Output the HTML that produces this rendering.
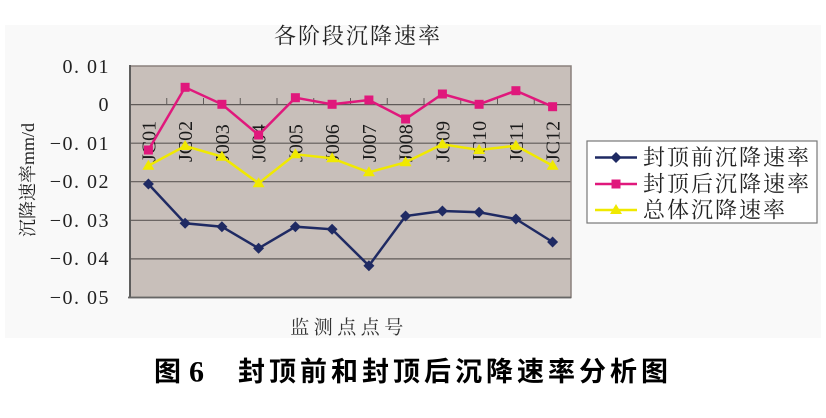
<!DOCTYPE html>
<html><head><meta charset="utf-8"><style>
html,body{margin:0;padding:0;background:#fff;}
svg{display:block;}
.ser{font-family:"Liberation Serif","Noto Serif CJK SC",serif;}
.cjk{font-family:"Liberation Serif","Noto Serif CJK SC",serif;}
.hei{font-family:"Liberation Sans","Noto Sans CJK SC",sans-serif;}
</style></head><body>
<svg width="826" height="418" viewBox="0 0 826 418" xmlns="http://www.w3.org/2000/svg">
<rect x="0" y="0" width="826" height="418" fill="#ffffff"/>
<rect x="5" y="25" width="816" height="313" fill="#f9f9f9"/>
<!-- title -->
<text x="358" y="36" class="cjk" font-size="22" letter-spacing="2" fill="#222" text-anchor="middle" dominant-baseline="central">各阶段沉降速率</text>
<!-- plot area -->
<rect x="130" y="66" width="441" height="231.5" fill="#c8bfba"/>
<g stroke="#5f5a58" stroke-width="1.2">
<line x1="130" y1="104.6" x2="571" y2="104.6"/>
<line x1="130" y1="143.2" x2="571" y2="143.2"/>
<line x1="130" y1="181.7" x2="571" y2="181.7"/>
<line x1="130" y1="220.3" x2="571" y2="220.3"/>
<line x1="130" y1="258.9" x2="571" y2="258.9"/>
</g>
<!-- category ticks on zero line -->
<g stroke="#5f5a58" stroke-width="1">
<line x1="166.75" y1="98" x2="166.75" y2="104.6"/>
<line x1="203.5" y1="98" x2="203.5" y2="104.6"/>
<line x1="240.25" y1="98" x2="240.25" y2="104.6"/>
<line x1="277" y1="98" x2="277" y2="104.6"/>
<line x1="313.75" y1="98" x2="313.75" y2="104.6"/>
<line x1="350.5" y1="98" x2="350.5" y2="104.6"/>
<line x1="387.25" y1="98" x2="387.25" y2="104.6"/>
<line x1="424" y1="98" x2="424" y2="104.6"/>
<line x1="460.75" y1="98" x2="460.75" y2="104.6"/>
<line x1="497.5" y1="98" x2="497.5" y2="104.6"/>
<line x1="534.25" y1="98" x2="534.25" y2="104.6"/>
</g>
<rect x="130" y="66" width="441" height="231.5" fill="none" stroke="#8a817d" stroke-width="1.5"/>
<line x1="130" y1="65" x2="130" y2="298" stroke="#555" stroke-width="1.8"/>
<line x1="128" y1="297.5" x2="571" y2="297.5" stroke="#666" stroke-width="1.8"/>
<!-- y tick labels -->
<g class="ser" font-size="20" fill="#222" text-anchor="end" dominant-baseline="central" letter-spacing="1.5">
<text x="110" y="67">0. 01</text>
<text x="110" y="105">0</text>
<text x="110" y="144">−0. 01</text>
<text x="110" y="182">−0. 02</text>
<text x="110" y="221">−0. 03</text>
<text x="110" y="259">−0. 04</text>
<text x="110" y="298">−0. 05</text>
</g>
<!-- y axis title -->
<text transform="translate(34,180) rotate(-90)" class="cjk" font-size="18" fill="#222" text-anchor="middle">沉降速率mm/d</text>
<!-- x category labels -->
<g class="ser" font-size="20" fill="#1a1a1a">
<text transform="translate(155.4,162) rotate(-90)">JC01</text>
<text transform="translate(192.1,162) rotate(-90)">JC02</text>
<text transform="translate(228.9,162) rotate(-90)">J003</text>
<text transform="translate(265.6,162) rotate(-90)">J004</text>
<text transform="translate(302.4,162) rotate(-90)">J005</text>
<text transform="translate(339.1,162) rotate(-90)">J006</text>
<text transform="translate(375.9,162) rotate(-90)">J007</text>
<text transform="translate(412.6,162) rotate(-90)">J008</text>
<text transform="translate(449.4,162) rotate(-90)">JC09</text>
<text transform="translate(486.1,162) rotate(-90)">JC10</text>
<text transform="translate(522.9,162) rotate(-90)">JC11</text>
<text transform="translate(559.6,162) rotate(-90)">JC12</text>
</g>
<!-- series: navy -->
<polyline fill="none" stroke="#1f2a63" stroke-width="2.5" points="148.4,184 185.1,223.3 221.9,226.7 258.6,248.3 295.4,226.7 332.1,229.3 368.9,265.7 405.6,216 442.4,211 479.1,212.3 515.9,219 552.6,242"/>
<g fill="#1f2a63">
<path d="M148.4,178.5 l5.5,5.5 l-5.5,5.5 l-5.5,-5.5z"/>
<path d="M185.1,217.8 l5.5,5.5 l-5.5,5.5 l-5.5,-5.5z"/>
<path d="M221.9,221.2 l5.5,5.5 l-5.5,5.5 l-5.5,-5.5z"/>
<path d="M258.6,242.8 l5.5,5.5 l-5.5,5.5 l-5.5,-5.5z"/>
<path d="M295.4,221.2 l5.5,5.5 l-5.5,5.5 l-5.5,-5.5z"/>
<path d="M332.1,223.8 l5.5,5.5 l-5.5,5.5 l-5.5,-5.5z"/>
<path d="M368.9,260.2 l5.5,5.5 l-5.5,5.5 l-5.5,-5.5z"/>
<path d="M405.6,210.5 l5.5,5.5 l-5.5,5.5 l-5.5,-5.5z"/>
<path d="M442.4,205.5 l5.5,5.5 l-5.5,5.5 l-5.5,-5.5z"/>
<path d="M479.1,206.8 l5.5,5.5 l-5.5,5.5 l-5.5,-5.5z"/>
<path d="M515.9,213.5 l5.5,5.5 l-5.5,5.5 l-5.5,-5.5z"/>
<path d="M552.6,236.5 l5.5,5.5 l-5.5,5.5 l-5.5,-5.5z"/>
</g>
<!-- series: yellow -->
<polyline fill="none" stroke="#f0e900" stroke-width="2.5" points="148.4,165.7 185.1,146 221.9,156.7 258.6,183.3 295.4,154.3 332.1,158.3 368.9,172.3 405.6,162.3 442.4,144.3 479.1,150 515.9,145.7 552.6,165.7"/>
<g fill="#f0e900">
<path d="M148.4,159.7 l6,10 h-12z"/>
<path d="M185.1,140 l6,10 h-12z"/>
<path d="M221.9,150.7 l6,10 h-12z"/>
<path d="M258.6,177.3 l6,10 h-12z"/>
<path d="M295.4,148.3 l6,10 h-12z"/>
<path d="M332.1,152.3 l6,10 h-12z"/>
<path d="M368.9,166.3 l6,10 h-12z"/>
<path d="M405.6,156.3 l6,10 h-12z"/>
<path d="M442.4,138.3 l6,10 h-12z"/>
<path d="M479.1,144 l6,10 h-12z"/>
<path d="M515.9,139.7 l6,10 h-12z"/>
<path d="M552.6,159.7 l6,10 h-12z"/>
</g>
<!-- series: pink -->
<polyline fill="none" stroke="#e0187c" stroke-width="2.5" points="148.4,150 185.1,87.3 221.9,104.3 258.6,135 295.4,97.7 332.1,104.3 368.9,100 405.6,119 442.4,94 479.1,104.3 515.9,90.7 552.6,106.7"/>
<g fill="#e0187c">
<rect x="143.9" y="145.5" width="9" height="9"/>
<rect x="180.6" y="82.8" width="9" height="9"/>
<rect x="217.4" y="99.8" width="9" height="9"/>
<rect x="254.1" y="130.5" width="9" height="9"/>
<rect x="290.9" y="93.2" width="9" height="9"/>
<rect x="327.6" y="99.8" width="9" height="9"/>
<rect x="364.4" y="95.5" width="9" height="9"/>
<rect x="401.1" y="114.5" width="9" height="9"/>
<rect x="437.9" y="89.5" width="9" height="9"/>
<rect x="474.6" y="99.8" width="9" height="9"/>
<rect x="511.4" y="86.2" width="9" height="9"/>
<rect x="548.1" y="102.2" width="9" height="9"/>
</g>
<!-- x axis title -->
<text x="349" y="328" class="cjk" font-size="19" letter-spacing="4.5" fill="#333" text-anchor="middle" dominant-baseline="central">监测点点号</text>
<!-- legend -->
<rect x="587" y="141" width="230" height="82" fill="#ffffff" stroke="#777" stroke-width="1.2"/>
<line x1="595" y1="157.5" x2="637" y2="157.5" stroke="#1f2a63" stroke-width="2.5"/>
<path d="M616,152 l5.5,5.5 l-5.5,5.5 l-5.5,-5.5z" fill="#1f2a63"/>
<line x1="595" y1="184" x2="637" y2="184" stroke="#e0187c" stroke-width="2.5"/>
<rect x="611.5" y="179.5" width="9" height="9" fill="#e0187c"/>
<line x1="595" y1="210" x2="637" y2="210" stroke="#f0e900" stroke-width="2.5"/>
<path d="M616,204 l6,10 h-12z" fill="#f0e900"/>
<g class="cjk" font-size="22" letter-spacing="2" fill="#222" dominant-baseline="central">
<text x="643" y="157.5">封顶前沉降速率</text>
<text x="643" y="184">封顶后沉降速率</text>
<text x="643" y="210">总体沉降速率</text>
</g>
<!-- caption -->
<g fill="#000" font-weight="bold" dominant-baseline="central">
<text x="154" y="372" class="hei" font-size="27">图</text>
<text x="189" y="372" font-family="Liberation Serif, serif" font-size="30">6</text>
<text x="238" y="372" class="hei" font-size="27" letter-spacing="4">封顶前和封顶后沉降速率分析图</text>
</g>
</svg>
</body></html>
